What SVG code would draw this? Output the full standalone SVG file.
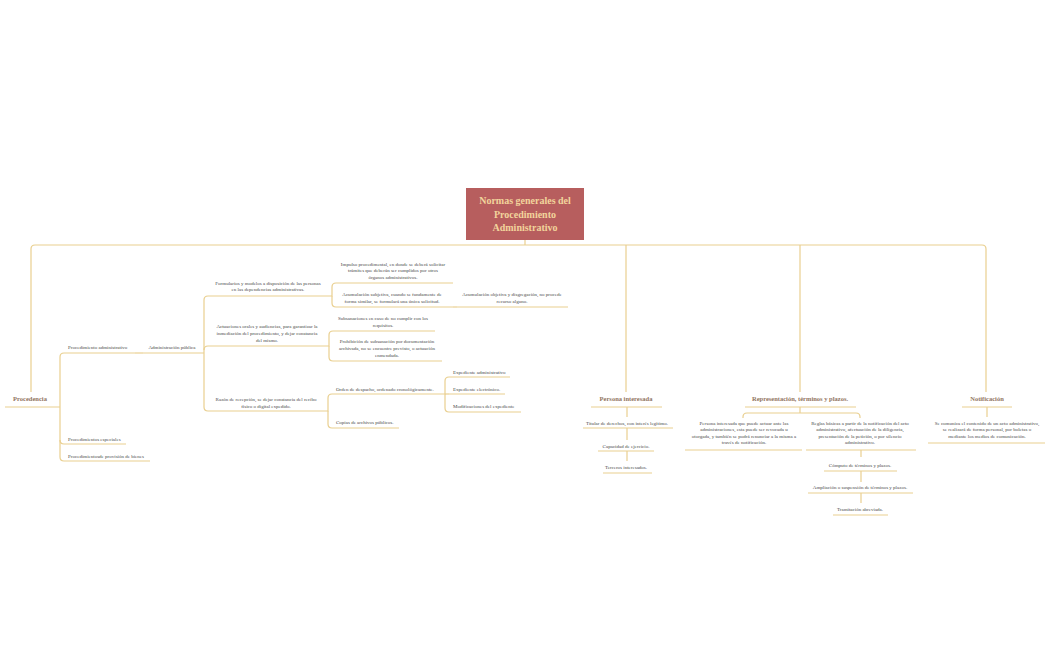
<svg xmlns="http://www.w3.org/2000/svg" width="1050" height="650" viewBox="0 0 1050 650">
<style>
.ln{fill:none;stroke:#e9cf8f;stroke-width:1.2}
.t{font-family:"Liberation Serif","Times New Roman",serif;font-size:5px;fill:#4a4a4a}
.m{font-family:"Liberation Serif","Times New Roman",serif;font-size:6.5px;font-weight:bold;fill:#917461}
.c{text-anchor:middle}
.h{font-family:"Liberation Serif","Times New Roman",serif;font-size:10px;font-weight:bold;fill:#f2d49c;text-anchor:middle}
</style>
<rect width="1050" height="650" fill="#ffffff"/>
<g id="connectors" class="ln">
<path d="M525,240V245"/>
<path d="M31,392V249Q31,245 35,245H982Q986,245 986,249V392"/>
<path d="M626,245V392"/>
<path d="M800,245V392"/>
<path d="M60,407V357Q60,353 64,353"/>
<path d="M60,407V457Q60,461 64,461"/>
<path d="M60,440Q60,444 64,444"/>
<path d="M135,353H143"/>
<path d="M204,353V300Q204,296 208,296"/>
<path d="M204,353V407Q204,411 208,411"/>
<path d="M204,350Q204,346 208,346"/>
<path d="M330,296H332V287Q332,283 336,283"/>
<path d="M332,296V303Q332,307 336,307"/>
<path d="M453,307H457"/>
<path d="M325,346H329V335Q329,331 333,331"/>
<path d="M329,346V357Q329,361 333,361"/>
<path d="M325,411H328V398Q328,394 332,394"/>
<path d="M328,411V424Q328,428 332,428"/>
<path d="M440,394H445V381Q445,377 449,377"/>
<path d="M445,394V408Q445,412 449,412"/>
<path d="M445,394H449"/>
<path d="M627,407V417"/>
<path d="M627,428V440"/>
<path d="M627,451V461"/>
<path d="M800,407V413"/>
<path d="M743,418V417Q743,413 747,413H856Q860,413 860,417V418"/>
<path d="M861,450V457"/>
<path d="M861,471V482"/>
<path d="M861,493V503"/>
<path d="M987,407V417"/>
</g>
<g id="root">
<rect x="466" y="188" width="118" height="52" fill="#b75e5e"/>
<text class="h" x="525" y="204">Normas generales del</text>
<text class="h" x="525" y="217.5">Procedimiento</text>
<text class="h" x="525" y="231">Administrativo</text>
</g>
<g id="procedencia">
<text class="m c" x="30" y="401">Procedencia</text>
<path class="ln" d="M5,407H60"/>
</g>
<g id="proc-admin">
<text class="t" x="68" y="349">Procedimiento administrativo</text>
<path class="ln" d="M64,353H135"/>
</g>
<g id="proc-especiales">
<text class="t" x="68" y="441">Procedimientos especiales</text>
<path class="ln" d="M64,444H126"/>
</g>
<g id="proc-bienes">
<text class="t" x="68" y="457.5">Procedimientosde provisión de bienes</text>
<path class="ln" d="M64,461H150"/>
</g>
<g id="admin-publica">
<text class="t c" x="172" y="349">Administración pública</text>
<path class="ln" d="M143,353H204"/>
</g>
<g id="formularios">
<text class="t c" x="268" y="285">Formularios y modelos a disposición de las personas</text>
<text class="t c" x="268" y="291">en las dependencias administrativas.</text>
<path class="ln" d="M208,296H330"/>
</g>
<g id="actuaciones">
<text class="t c" x="267" y="328">Actuaciones orales y audiencias, para garantizar la</text>
<text class="t c" x="267" y="335">inmediación del procedimiento, y dejar constancia</text>
<text class="t c" x="267" y="341.5">del mismo.</text>
<path class="ln" d="M208,346H325"/>
</g>
<g id="razon">
<text class="t c" x="266" y="400.5">Razón de recepción, se dejar constancia del recibo</text>
<text class="t c" x="266" y="407.5">físico o digital expedido.</text>
<path class="ln" d="M208,411H325"/>
</g>
<g id="impulso">
<text class="t c" x="393" y="265.5">Impulso procedimental, en donde se deberá solicitar</text>
<text class="t c" x="393" y="272">trámites que deberán ser cumplidos por otros</text>
<text class="t c" x="393" y="278.5">órganos administrativos.</text>
<path class="ln" d="M336,283H453"/>
</g>
<g id="acum-subjetiva">
<text class="t c" x="392" y="295.5">Acumulación subjetiva, cuando se fundamente de</text>
<text class="t c" x="392" y="302.5">forma similar, se formulará una única solicitud.</text>
<path class="ln" d="M336,307H453"/>
</g>
<g id="acum-objetiva">
<text class="t c" x="512" y="295.5">Acumulación objetiva y disgregación, no procede</text>
<text class="t c" x="512" y="302.5">recurso alguno.</text>
<path class="ln" d="M457,307H568"/>
</g>
<g id="subsanaciones">
<text class="t c" x="383" y="319.5">Subsanaciones en caso de no cumplir con los</text>
<text class="t c" x="383" y="326.5">requisitos.</text>
<path class="ln" d="M333,331H435"/>
</g>
<g id="prohibicion">
<text class="t c" x="387" y="342.5">Prohibición de subsanación por documentación</text>
<text class="t c" x="387" y="349.5">archivada, no se encuentre previsto, o actuación</text>
<text class="t c" x="387" y="356.5">enmendada.</text>
<path class="ln" d="M333,361H442"/>
</g>
<g id="orden">
<text class="t" x="336" y="390.5">Orden de despacho, ordenado cronológicamente.</text>
<path class="ln" d="M332,394H440"/>
</g>
<g id="copias">
<text class="t" x="336" y="423.5">Copias de archivos públicos.</text>
<path class="ln" d="M332,428H399"/>
</g>
<g id="exp-admin">
<text class="t" x="453" y="373.5">Expediente administrativo</text>
<path class="ln" d="M449,377H510"/>
</g>
<g id="exp-electronico">
<text class="t" x="453" y="390.5">Expediente electrónico.</text>
<path class="ln" d="M449,394H505"/>
</g>
<g id="modificaciones">
<text class="t" x="453" y="407.5">Modificaciones del expediente</text>
<path class="ln" d="M449,412H521"/>
</g>
<g id="persona-interesada">
<text class="m c" x="626" y="401">Persona interesada</text>
<path class="ln" d="M591,407H662"/>
</g>
<g id="titular">
<text class="t c" x="627" y="424.5">Titular de derechos, con interés legítimo.</text>
<path class="ln" d="M583,428H673"/>
</g>
<g id="capacidad">
<text class="t c" x="626" y="447.5">Capacidad de ejercicio.</text>
<path class="ln" d="M598,451H654"/>
</g>
<g id="terceros">
<text class="t c" x="626" y="468.5">Terceros interesados.</text>
<path class="ln" d="M603,473H652"/>
</g>
<g id="representacion">
<text class="m c" x="800" y="401">Representación, términos y plazos.</text>
<path class="ln" d="M745,407H856"/>
</g>
<g id="rep-persona">
<text class="t c" x="744" y="424.5">Persona interesada que puede actuar ante las</text>
<text class="t c" x="744" y="431">administraciones, esta puede ser revocada u</text>
<text class="t c" x="744" y="437.5">otorgada, y también se podrá renunciar a la misma a</text>
<text class="t c" x="744" y="444">través de notificación.</text>
<path class="ln" d="M685,450H802"/>
</g>
<g id="reglas">
<text class="t c" x="860" y="424.5">Reglas básicas a partir de la notificación del acto</text>
<text class="t c" x="860" y="431">administrativo, afectuación de la diligencia,</text>
<text class="t c" x="860" y="437.5">presentación de la petición, o por silencio</text>
<text class="t c" x="860" y="444">administrativo.</text>
<path class="ln" d="M806,450H916"/>
</g>
<g id="computo">
<text class="t c" x="860" y="466.5">Cómputo de términos y plazos.</text>
<path class="ln" d="M824,471H897"/>
</g>
<g id="ampliacion">
<text class="t c" x="860" y="489">Ampliación o suspensión de términos y plazos.</text>
<path class="ln" d="M808,493H913"/>
</g>
<g id="tramitacion">
<text class="t c" x="860" y="510.5">Tramitación abreviada.</text>
<path class="ln" d="M833,515H888"/>
</g>
<g id="notificacion">
<text class="m c" x="987" y="401">Notificación</text>
<path class="ln" d="M962,407H1012"/>
</g>
<g id="notif-texto">
<text class="t c" x="987" y="424.5">Se comunica el contenido de un acto administrativo,</text>
<text class="t c" x="987" y="431">se realizará de forma personal, por boletas o</text>
<text class="t c" x="987" y="437.5">mediante los medios de comunicación.</text>
<path class="ln" d="M928,443H1045"/>
</g>
</svg>
